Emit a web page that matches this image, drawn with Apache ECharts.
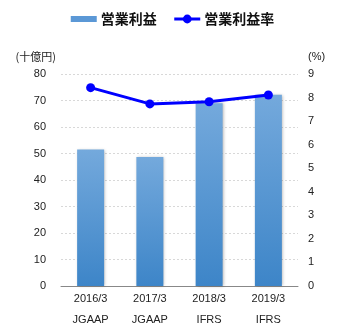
<!DOCTYPE html>
<html>
<head>
<meta charset="utf-8">
<script src="https://cdn.jsdelivr.net/npm/echarts@6/dist/echarts.min.js"></script>
<style>
  html, body { margin: 0; padding: 0; background: #fff; }
  #chart { width: 345px; height: 330px; }
</style>
</head>
<body>
<div id="chart"></div>
<script>
const years = ['2016/3', '2017/3', '2018/3', '2019/3']
const standards = ['JGAAP', 'JGAAP', 'IFRS', 'IFRS']
const profit = [51.5, 48.7, 69.0, 72.2]
const margin = [8.42, 7.73, 7.82, 8.11]

const labelFont = 'Liberation Sans, Arial, sans-serif'
const chart = echarts.init(document.getElementById('chart'))

chart.setOption({
  animation: false,
  legend: {
    top: 7,
    left: 'center',
    itemGap: 16,
    textStyle: {
      fontSize: 14,
      fontWeight: 'bold',
      color: '#111',
      fontFamily: 'Noto Sans CJK JP',
      padding: [0, 0, 0, -1]
    },
    data: [
      {
        name: '営業利益',
        icon: 'path://M0,0L26,0L26,6L0,6Z',
        itemStyle: { color: '#5b98d6' }
      },
      { name: '営業利益率', lineStyle: { width: 3 } }
    ],
    itemWidth: 26,
    itemHeight: 11
  },
  grid: { left: 61, right: 47, top: 74, bottom: 43 },
  xAxis: {
    type: 'category',
    data: years.map((y, i) => y + '\n' + standards[i]),
    axisLine: { lineStyle: { color: '#888' } },
    axisTick: { length: 4, lineStyle: { color: '#888' } },
    axisLabel: {
      margin: 2,
      lineHeight: 21,
      fontSize: 11,
      color: '#222',
      fontFamily: labelFont
    }
  },
  yAxis: [
    {
      type: 'value',
      min: 0,
      max: 80,
      interval: 10,
      name: '(十億円)',
      nameGap: 12,
      nameTextStyle: {
        align: 'right',
        padding: [0, 5, 0, 0],
        fontSize: 11,
        color: '#222',
        fontFamily: 'Noto Sans CJK JP'
      },
      axisLabel: { margin: 15, fontSize: 11, color: '#222', fontFamily: labelFont },
      splitLine: { lineStyle: { color: '#d8d8d8', type: [2, 2] } }
    },
    {
      type: 'value',
      min: 0,
      max: 9,
      interval: 1,
      name: '(%)',
      nameGap: 12,
      nameTextStyle: {
        align: 'left',
        padding: [0, 0, 0, 10],
        fontSize: 11,
        color: '#222',
        fontFamily: labelFont
      },
      axisLabel: { margin: 10, fontSize: 11, color: '#222', fontFamily: labelFont },
      splitLine: { show: false }
    }
  ],
  series: [
    {
      name: '営業利益',
      type: 'bar',
      data: profit,
      barWidth: 27,
      itemStyle: {
        color: new echarts.graphic.LinearGradient(0, 0, 0, 1, [
          { offset: 0, color: '#74a9dc' },
          { offset: 1, color: '#3d85c8' }
        ]),
        shadowColor: 'rgba(0,0,0,0.3)',
        shadowBlur: 3,
        shadowOffsetX: 1
      }
    },
    {
      name: '営業利益率',
      type: 'line',
      yAxisIndex: 1,
      data: margin,
      symbol: 'circle',
      symbolSize: 9,
      lineStyle: { color: '#0000ff', width: 3 },
      itemStyle: { color: '#0000ff' }
    }
  ]
})
</script>
</body>
</html>
